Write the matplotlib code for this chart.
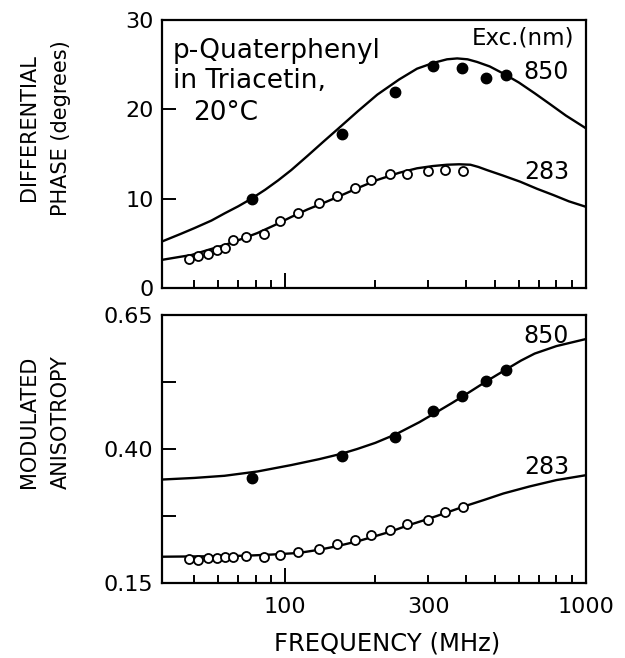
import numpy as np
import matplotlib
matplotlib.use("Agg")
import matplotlib.pyplot as plt
from matplotlib.ticker import FixedLocator, FuncFormatter, NullFormatter

plt.rcParams["font.family"] = ["DejaVu Sans"]

# ── data ─────────────────────────────────────────────────────────────────────
# 850 nm excitation (filled circles)
freq_850 = [78, 155, 232, 310, 388, 465, 543]
phase_850 = [10.0, 17.2, 21.9, 24.8, 24.6, 23.5, 23.8]
aniso_850 = [0.345, 0.387, 0.423, 0.470, 0.499, 0.526, 0.547]

# 283 nm excitation (open circles)
freq_283 = [48, 51.6, 55.5, 59.7, 63.3, 67, 74.5, 85.3, 96.4, 111,
            129.5, 149, 170.5, 194, 224, 255, 300, 341, 392]
phase_283 = [3.2, 3.6, 3.8, 4.25, 4.45, 5.35, 5.75, 6.0, 7.5, 8.35,
             9.5, 10.3, 11.25, 12.1, 12.75, 12.75, 13.1, 13.2, 13.1]
aniso_283 = [0.194, 0.193, 0.197, 0.197, 0.199, 0.199, 0.200, 0.199, 0.202,
             0.207, 0.213, 0.223, 0.230, 0.240, 0.248, 0.260, 0.268, 0.282,
             0.292]

# fitted curves (read point by point)
fit_f_phase_850 = [39, 45, 50, 57, 63, 70, 77, 86, 95, 105, 119, 134, 150,
                   175, 203, 240, 275, 300, 320, 346, 374, 405, 436, 480,
                   533, 600, 677, 760, 860, 1000]
fit_phase_850 = [5.2, 6.05, 6.7, 7.55, 8.35, 9.15, 9.95, 11.0, 12.05, 13.2,
                 14.8, 16.35, 17.8, 19.8, 21.65, 23.35, 24.55, 25.0, 25.3,
                 25.6, 25.7, 25.6, 25.3, 24.8, 24.0, 23.0, 21.8, 20.6, 19.3,
                 17.9]
fit_f_phase_283 = [39, 45, 49, 56, 63, 72, 81, 92, 105, 119, 134, 150, 175,
                   203, 240, 275, 310, 346, 380, 414, 440, 470, 530, 606,
                   690, 782, 880, 1000]
fit_phase_283 = [3.15, 3.5, 3.7, 4.3, 4.8, 5.5, 6.15, 7.0, 7.95, 8.8, 9.5,
                 10.2, 11.2, 12.1, 12.9, 13.4, 13.65, 13.8, 13.85, 13.8,
                 13.55, 13.2, 12.6, 11.9, 11.1, 10.4, 9.7, 9.1]
fit_f_aniso_850 = [39, 50, 63, 81, 105, 130, 154, 174, 200, 235, 280, 320,
                   360, 400, 470, 550, 610, 677, 800, 1000]
fit_aniso_850 = [0.343, 0.346, 0.350, 0.358, 0.370, 0.381, 0.391, 0.400,
                 0.4115, 0.428, 0.450, 0.469, 0.486, 0.502, 0.527, 0.550,
                 0.565, 0.578, 0.592, 0.605]
fit_f_aniso_283 = [39, 60, 75, 90, 111, 130, 150, 175, 196, 225, 255, 290,
                   320, 360, 400, 460, 533, 650, 800, 1000]
fit_aniso_283 = [0.199, 0.200, 0.201, 0.203, 0.206, 0.212, 0.219, 0.228,
                 0.236, 0.246, 0.257, 0.267, 0.275, 0.285, 0.294, 0.305,
                 0.317, 0.330, 0.342, 0.351]

x_major = [100, 1000]
x_minor = [50, 60, 70, 80, 90, 200, 300, 400, 500, 600, 700, 800, 900]

# ── figure ───────────────────────────────────────────────────────────────────
fig = plt.figure(figsize=(6.25, 6.58), dpi=100)
ax1 = fig.add_axes([0.259, 0.5623, 0.678, 0.4073])
ax2 = fig.add_axes([0.259, 0.114, 0.678, 0.4073])

LW = 1.7
FS_TICK = 16


def style_axis(ax):
    ax.set_xscale("log")
    ax.set_xlim(39, 1000)
    for s in ax.spines.values():
        s.set_linewidth(1.6)
    ax.xaxis.set_major_locator(FixedLocator(x_major))
    ax.xaxis.set_minor_locator(FixedLocator(x_minor))
    ax.tick_params(axis="x", which="major", direction="in", length=11,
                   width=1.4, top=False, labelsize=FS_TICK, pad=10)
    ax.tick_params(axis="x", which="minor", direction="in", length=6,
                   width=1.4, top=False, labelsize=FS_TICK, pad=10)
    ax.tick_params(axis="y", which="both", direction="in", length=10,
                   width=1.4, right=False, labelsize=FS_TICK, pad=6)


# top panel: differential phase
ax = ax1
style_axis(ax)
ax.plot(fit_f_phase_850, fit_phase_850, color="black", lw=LW)
ax.plot(fit_f_phase_283, fit_phase_283, color="black", lw=LW)
ax.plot(freq_850, phase_850, "o", color="black", ms=7.5, zorder=3)
ax.plot(freq_283, phase_283, "o", mfc="white", mec="black", ms=6.5,
        mew=1.3, zorder=3)
ax.set_ylim(0, 30)
ax.set_yticks([0, 10, 20, 30])
ax.xaxis.set_major_formatter(NullFormatter())
ax.xaxis.set_minor_formatter(NullFormatter())
ax.text(920, 28.0, "Exc.(nm)", ha="right", va="center", fontsize=16.5)
ax.text(880, 24.2, "850", ha="right", va="center", fontsize=17)
ax.text(880, 13.0, "283", ha="right", va="center", fontsize=17)
ax.text(42.5, 24.9, "p-Quaterphenyl\nin Triacetin,", ha="left",
        va="center", fontsize=19, linespacing=1.2)
ax.text(49.5, 19.6, "20°C", ha="left", va="center", fontsize=19)

# bottom panel: modulated anisotropy
ax = ax2
style_axis(ax)
ax.plot(fit_f_aniso_850, fit_aniso_850, color="black", lw=LW)
ax.plot(fit_f_aniso_283, fit_aniso_283, color="black", lw=LW)
ax.plot(freq_850, aniso_850, "o", color="black", ms=7.5, zorder=3)
ax.plot(freq_283, aniso_283, "o", mfc="white", mec="black", ms=6.5,
        mew=1.3, zorder=3)
ax.set_ylim(0.15, 0.65)
ax.set_yticks([0.15, 0.275, 0.40, 0.525, 0.65])
ax.set_yticklabels(["0.15", "", "0.40", "", "0.65"])
ax.xaxis.set_major_formatter(FuncFormatter(lambda v, p: f"{v:.0f}"))
ax.xaxis.set_minor_formatter(
    FuncFormatter(lambda v, p: "300" if abs(v - 300) < 1 else ""))
ax.text(880, 0.611, "850", ha="right", va="center", fontsize=17)
ax.text(880, 0.366, "283", ha="right", va="center", fontsize=17)

# axis titles
fig.text(0.072, 1 - 128 / 658, "DIFFERENTIAL\nPHASE (degrees)", rotation=90,
         ha="center", va="center", fontsize=15, linespacing=1.7,
         multialignment="center")
fig.text(0.072, 1 - 422 / 658, "MODULATED\nANISOTROPY", rotation=90,
         ha="center", va="center", fontsize=15, linespacing=1.7,
         multialignment="center")
fig.text(387 / 625, 1 - 643 / 658, "FREQUENCY (MHz)", ha="center",
         va="center", fontsize=17.5)

fig.savefig("out.png", dpi=100)
plt.close(fig)
